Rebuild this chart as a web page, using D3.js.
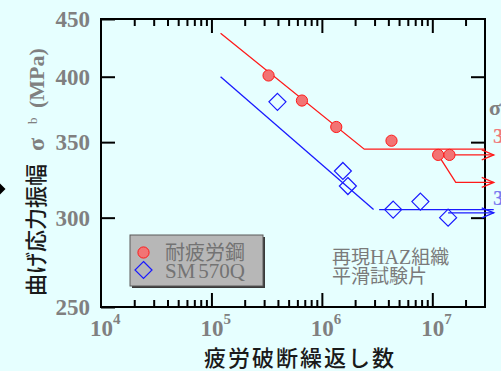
<!DOCTYPE html>
<html>
<head>
<meta charset="utf-8">
<script src="https://cdn.jsdelivr.net/npm/d3@7/dist/d3.min.js"></script>
<style>
  html, body { margin: 0; padding: 0; background: #e6ffff; }
  svg { display: block; }
</style>
</head>
<body>
<svg id="chart" width="501" height="371"></svg>
<script>
// S-N data: fatigue-resistant steel vs SM570Q (reproduced HAZ, smooth specimens)
const seriesNames = ["耐疲労鋼", "SM570Q"];

const resistN = [3.29e5, 6.6e5, 1.35e6, 4.27e6, 1.13e7, 1.43e7];
const resistS = [401, 381, 361, 351, 341, 341];

const sm570N = [3.96e5, 1.55e6, 1.72e6, 4.42e6, 7.8e6, 1.39e7];
const sm570S = [380, 330, 320, 305, 310, 300];

// fatigue limits (MPa)
const resistLimit = 345;
const sm570Limit = 305;

// fitted S-N curves: sloped part then fatigue limit
const resistCurveN = [1.21e5, 2.42e6, 3.0e7];
const resistCurveS = [437, resistLimit, resistLimit];
const sm570SlopeN = [1.21e5, 2.94e6];
const sm570SlopeS = [400, sm570Limit];
const sm570LimitN = [3.3e6, 3.6e7];
const sm570LimitS = [sm570Limit, sm570Limit];

// run-out (unbroken) arrows
const resistRunoutN = [1.43e7, 3.6e7];
const resistRunoutS = [341, 341];
const resistBranchN = [1.13e7, 1.63e7, 3.6e7];
const resistBranchS = [341, 322.4, 322.4];
const sm570RunoutN = [1.39e7, 3.6e7];
const sm570RunoutS = [303, 303];

// axes
const xMajor = [1e4, 1e5, 1e6, 1e7];
const xExponents = ["4", "5", "6", "7"];
const yTicks = [250, 300, 350, 400, 450];
const yInner = [300, 350, 400];

const svg = d3.select("#chart");
const L = 101, R = 485, T = 19, B = 307;

const x = d3.scaleLog().domain([1e4, 3e7]).range([L, R]);
const y = d3.scaleLog().domain([250, 450]).range([B, T]);

const gray = "#808080";
const red = "#ff1a1a";
const blue = "#1a1aff";

// ----- axes with inward ticks -----
const allX = x.ticks().filter(v => v > 1e4 && v < 3e7);
const isMajor = v => Math.abs(Math.log10(v) - Math.round(Math.log10(v))) < 1e-9;
const minorX = allX.filter(v => !isMajor(v));
const majorX = allX.filter(isMajor);

function styleAxis(g) {
  g.select(".domain").remove();
  g.selectAll(".tick line").attr("stroke", "#000").attr("stroke-width", 2);
}

[[d3.axisBottom, B], [d3.axisTop, T]].forEach(([fn, pos]) => {
  const dir = fn === d3.axisBottom ? 1 : 1;
  svg.append("g").attr("transform", `translate(0,${pos})`)
    .call(fn(x).tickValues(minorX).tickSize(-7).tickFormat(""))
    .call(styleAxis);
  svg.append("g").attr("transform", `translate(0,${pos})`)
    .call(fn(x).tickValues(majorX).tickSize(-14).tickFormat(""))
    .call(styleAxis);
});

svg.append("g").attr("transform", `translate(${L},0)`)
  .call(d3.axisLeft(y).tickValues(yTicks).tickSize(-14).tickPadding(11).tickFormat(d3.format("d")))
  .call(styleAxis)
  .call(g => g.selectAll("text")
    .attr("fill", gray)
    .attr("font-family", "'Liberation Serif', serif")
    .attr("font-weight", "bold")
    .attr("font-size", 23));

svg.append("g").attr("transform", `translate(${R},0)`)
  .call(d3.axisRight(y).tickValues(yInner).tickSize(-14).tickFormat(""))
  .call(styleAxis);

// frame
svg.append("rect")
  .attr("x", L).attr("y", T).attr("width", R - L).attr("height", B - T)
  .attr("fill", "none").attr("stroke", "#000").attr("stroke-width", 2);

// x tick labels 10^n
const xl = svg.append("g")
  .attr("font-family", "'Liberation Serif', serif")
  .attr("font-weight", "bold")
  .attr("fill", gray);
xMajor.forEach((v, i) => {
  const t = xl.append("text").attr("x", x(v) - 11).attr("y", 336).attr("font-size", 23);
  t.append("tspan").text("10");
  t.append("tspan").attr("dy", -12).attr("font-size", 15).text(xExponents[i]);
});

// ----- fitted lines -----
const line = d3.line().x(d => x(d[0])).y(d => y(d[1]));
const zip = (a, b) => a.map((v, i) => [v, b[i]]);

function drawLine(ns, ss, color) {
  svg.append("path").attr("d", line(zip(ns, ss)))
    .attr("fill", "none").attr("stroke", color).attr("stroke-width", 1.3);
}
function drawArrow(ns, ss, color) {
  drawLine(ns, ss, color);
  const tx = x(ns[ns.length - 1]), ty = y(ss[ss.length - 1]);
  svg.append("path")
    .attr("d", `M${tx - 12},${ty - 5}L${tx},${ty}L${tx - 12},${ty + 5}`)
    .attr("fill", "none").attr("stroke", color).attr("stroke-width", 1.3);
}

drawLine(resistCurveN, resistCurveS, red);
drawArrow(resistRunoutN, resistRunoutS, red);
drawArrow(resistBranchN, resistBranchS, red);

drawLine(sm570SlopeN, sm570SlopeS, blue);
drawLine(sm570LimitN, sm570LimitS, blue);
drawArrow(sm570RunoutN, sm570RunoutS, blue);

// ----- markers -----
svg.append("g").selectAll("circle").data(zip(resistN, resistS)).join("circle")
  .attr("cx", d => x(d[0])).attr("cy", d => y(d[1])).attr("r", 5.6)
  .attr("fill", "#f27474").attr("stroke", red).attr("stroke-width", 1);

const diamond = (cx, cy, h) => `M${cx},${cy - h}L${cx + h},${cy}L${cx},${cy + h}L${cx - h},${cy}Z`;
svg.append("g").selectAll("path").data(zip(sm570N, sm570S)).join("path")
  .attr("d", d => diamond(x(d[0]), y(d[1]), 8.5))
  .attr("fill", "none").attr("stroke", blue).attr("stroke-width", 1.2);

// ----- legend -----
const lg = svg.append("g");
lg.append("rect").attr("x", 132).attr("y", 237).attr("width", 133).attr("height", 51).attr("fill", "#3a3a3a");
lg.append("rect").attr("x", 130).attr("y", 235).attr("width", 133).attr("height", 51)
  .attr("fill", "#b7b7b7").attr("stroke", "#5a5a5a").attr("stroke-width", 1);
lg.append("circle").attr("cx", 143.5).attr("cy", 252.5).attr("r", 5.6)
  .attr("fill", "#f27474").attr("stroke", red).attr("stroke-width", 1);
lg.append("path").attr("d", diamond(143.5, 270, 8.5))
  .attr("fill", "none").attr("stroke", blue).attr("stroke-width", 1.2);
lg.append("text").attr("x", 165).attr("y", 259.5)
  .attr("font-family", "'Noto Sans CJK JP', sans-serif").attr("font-size", 20)
  .attr("fill", "#737373").text(seriesNames[0]);
const sm = lg.append("text").attr("x", 165).attr("y", 278)
  .attr("font-family", "'Liberation Serif', serif").attr("font-size", 21)
  .attr("fill", "#737373");
sm.append("tspan").text(seriesNames[1].slice(0, 2));
sm.append("tspan").attr("dx", 3).text(seriesNames[1].slice(2));

// ----- annotation -----
const an = svg.append("g").attr("fill", "#7a7a7a").attr("font-size", 19);
const a1 = an.append("text").attr("x", 332).attr("y", 264);
a1.append("tspan").attr("font-family", "'Noto Sans CJK JP', sans-serif").text("再現");
a1.append("tspan").attr("font-family", "'Liberation Serif', serif").attr("font-size", 20).text("HAZ");
a1.append("tspan").attr("font-family", "'Noto Sans CJK JP', sans-serif").text("組織");
an.append("text").attr("x", 332).attr("y", 283)
  .attr("font-family", "'Noto Sans CJK JP', sans-serif").text("平滑試験片");

// ----- fatigue-limit labels at right edge -----
const rl = svg.append("g").attr("font-family", "'Liberation Serif', serif").attr("font-weight", "bold").attr("font-size", 22);
rl.append("text").attr("x", 489).attr("y", 115).attr("fill", gray).text("σw");
rl.append("text").attr("x", 493).attr("y", 143).attr("fill", "#f07a7a").text(resistLimit + " MPa");
rl.append("text").attr("x", 493).attr("y", 205).attr("fill", "#7a7af0").text(sm570Limit + " MPa");

// ----- axis titles -----
svg.append("text").attr("x", 300).attr("y", 366).attr("text-anchor", "middle")
  .attr("font-family", "'Noto Sans CJK JP', sans-serif").attr("font-size", 22)
  .attr("font-weight", 500).attr("letter-spacing", 2).attr("fill", "#1a1a1a")
  .text("疲労破断繰返し数");

const yt = svg.append("g").attr("transform", "translate(44,0) rotate(-90)");
yt.append("text").attr("x", -296).attr("y", 0)
  .attr("font-family", "'Noto Sans CJK JP', sans-serif").attr("font-size", 22)
  .attr("font-weight", 500).attr("fill", "#1a1a1a").text("曲げ応力振幅");
yt.append("text").attr("x", -151).attr("y", 0)
  .attr("font-family", "'Liberation Serif', serif").attr("font-weight", "bold").attr("font-size", 24)
  .attr("fill", gray).text("σ");
yt.append("text").attr("x", -124).attr("y", -7)
  .attr("font-family", "'Liberation Serif', serif").attr("font-size", 13)
  .attr("fill", gray).text("b");
yt.append("text").attr("x", -108).attr("y", 0)
  .attr("font-family", "'Liberation Serif', serif").attr("font-weight", "bold").attr("font-size", 22)
  .attr("fill", gray).text("(MPa)");

// bullet at the left edge
svg.append("path").attr("d", diamond(0, 189, 5.5)).attr("fill", "#000");
</script>
</body>
</html>
